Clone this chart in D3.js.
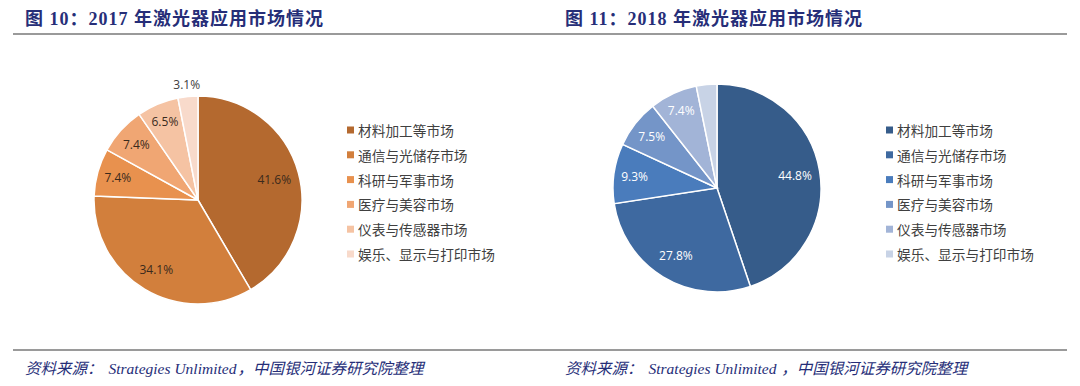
<!DOCTYPE html>
<html>
<head>
<meta charset="utf-8">
<script src="https://cdn.jsdelivr.net/npm/d3@7/dist/d3.min.js"></script>
<style>
  html, body { margin: 0; padding: 0; background: #fff; }
  svg { display: block; }
</style>
</head>
<body>
<svg id="chart" width="1080" height="386"></svg>
<script>
// market categories, shared by both years
const categories = ['材料加工等市场', '通信与光储存市场', '科研与军事市场', '医疗与美容市场', '仪表与传感器市场', '娱乐、显示与打印市场'];

const values2017 = [41.6, 34.1, 7.4, 7.4, 6.5, 3.1];
const labels2017 = ['41.6%', '34.1%', '7.4%', '7.4%', '6.5%', '3.1%'];

const values2018 = [44.8, 27.8, 9.3, 7.5, 7.4, 3.2];
const labels2018 = ['44.8%', '27.8%', '9.3%', '7.5%', '7.4%', ''];

const colors2017 = ['#b4692f', '#d27f3c', '#e8914e', '#f0a673', '#f5c3a3', '#f8dacb'];
const colors2018 = ['#365c8a', '#3e69a0', '#4a7cbc', '#7495c8', '#a2b4d7', '#c8d3e6'];

const titles = ['图 10：2017 年激光器应用市场情况', '图 11：2018 年激光器应用市场情况'];
const sourceParts = [
  ['资料来源：', 'Strategies Unlimited', '，中国银河证券研究院整理'],
  ['资料来源：', 'Strategies Unlimited', ' ，中国银河证券研究院整理'],
];

const svg = d3.select('#chart');
const titleColor = '#262e78';

// header and footer rules
svg.append('line').attr('x1', 13).attr('x2', 1067).attr('y1', 34).attr('y2', 34)
  .attr('stroke', '#9a9a9a').attr('stroke-width', 2);
svg.append('line').attr('x1', 13).attr('x2', 1067).attr('y1', 350).attr('y2', 350)
  .attr('stroke', '#9a9a9a').attr('stroke-width', 2);

[25, 565].forEach((x, i) => {
  svg.append('text')
    .attr('x', x).attr('y', 25)
    .attr('font-family', '"Liberation Serif", "Noto Sans CJK SC", serif')
    .attr('font-weight', 'bold')
    .attr('font-size', 18)
    .attr('letter-spacing', 1)
    .attr('fill', titleColor)
    .text(titles[i]);
  const src = svg.append('text')
    .attr('x', x).attr('y', 374)
    .attr('font-family', '"Liberation Serif", "Noto Sans CJK SC", serif')
    .attr('font-style', 'italic')
    .attr('font-size', 15.5)
    .attr('fill', titleColor);
  src.append('tspan').text(sourceParts[i][0]);
  src.append('tspan').attr('dx', 6).text(sourceParts[i][1]);
  src.append('tspan').attr('dx', 1).text(sourceParts[i][2]);
});

function drawPie(opts) {
  const { cx, cy, r, values, labels, colors, labelFill, legendX, labelR } = opts;
  const pie = d3.pie().sort(null).value((d) => d);
  const arc = d3.arc().innerRadius(0).outerRadius(r);
  const arcs = pie(values);
  const g = svg.append('g').attr('transform', `translate(${cx},${cy})`);

  g.selectAll('path')
    .data(arcs)
    .join('path')
    .attr('d', arc)
    .attr('fill', (d, i) => colors[i])
    .attr('stroke', '#fff')
    .attr('stroke-width', 1.5);

  g.selectAll('text.lbl')
    .data(arcs)
    .join('text')
    .attr('class', 'lbl')
    .attr('transform', (d, i) => {
      const rr = labelR[i] * r;
      const a = (d.startAngle + d.endAngle) / 2;
      return `translate(${Math.sin(a) * rr},${-Math.cos(a) * rr})`;
    })
    .attr('text-anchor', 'middle')
    .attr('dominant-baseline', 'central')
    .attr('font-family', '"Open Sans", "DejaVu Sans", sans-serif')
    .attr('font-size', 12)
    .attr('fill', (d, i) => (labelR[i] > 1 ? '#404040' : labelFill))
    .text((d, i) => labels[i]);

  const legend = svg.append('g');
  const rowY = d3.scalePoint().domain(categories).range([130, 254]);
  categories.forEach((c, i) => {
    const y = rowY(c);
    legend.append('rect')
      .attr('x', legendX).attr('y', y - 3.5)
      .attr('width', 7).attr('height', 7)
      .attr('fill', colors[i]);
    legend.append('text')
      .attr('x', legendX + 11).attr('y', y)
      .attr('dominant-baseline', 'central')
      .attr('font-family', '"Noto Sans CJK SC", sans-serif')
      .attr('font-size', 13.7)
      .attr('fill', '#404040')
      .text(c);
  });
}

drawPie({
  cx: 198, cy: 200, r: 104,
  values: values2017, labels: labels2017, colors: colors2017,
  labelFill: '#3a2a1c', legendX: 347,
  labelR: [0.76, 0.78, 0.8, 0.8, 0.82, 1.12],
});

drawPie({
  cx: 717, cy: 188, r: 104,
  values: values2018, labels: labels2018, colors: colors2018,
  labelFill: '#ffffff', legendX: 886,
  labelR: [0.76, 0.76, 0.8, 0.8, 0.82, 0.82],
});
</script>
</body>
</html>
